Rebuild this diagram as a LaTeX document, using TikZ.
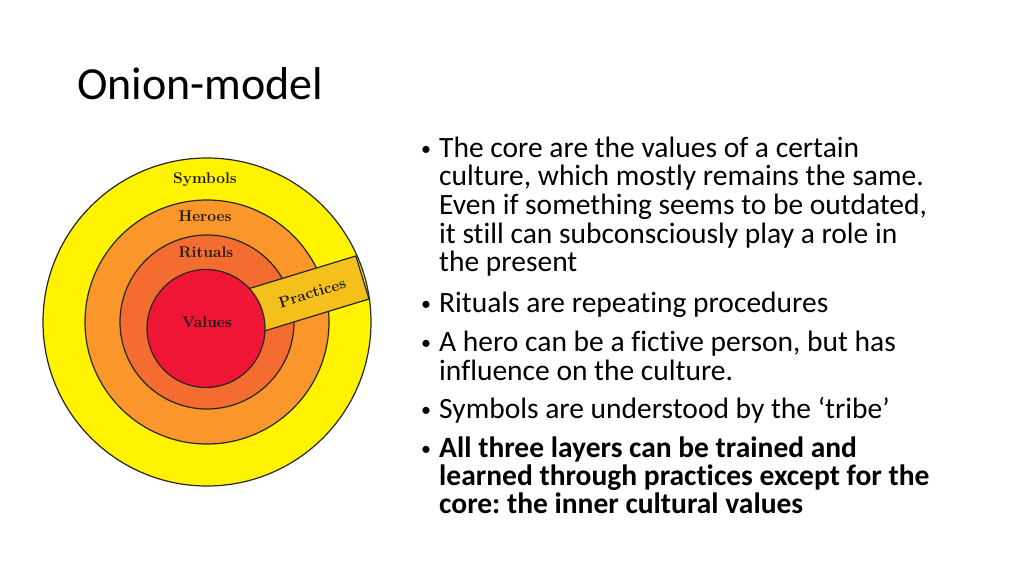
\documentclass[tikz,border=0pt]{standalone}
\usepackage{fontspec}
\newfontfamily\calibri[Ligatures=NoCommon]{Carlito}
\usepackage{tikz}
\frenchspacing

\definecolor{symbolyellow}{RGB}{255,243,0}
\definecolor{heroorange}{RGB}{250,150,42}
\definecolor{ritualorange}{RGB}{244,108,48}
\definecolor{valuered}{RGB}{238,22,52}
\definecolor{practicegold}{RGB}{245,192,28}

\newcommand{\bodyfont}{\calibri\fontsize{29.5}{28.6}\selectfont}
\newcommand{\bulletpar}[1]{\parbox[t]{560pt}{\raggedright #1}}

\tikzset{
  ring/.style={draw=black!85, line width=1.2pt},
  ringlabel/.style={font=\fontsize{15.5}{18}\selectfont\bfseries, text=black!90, inner sep=0pt},
  bulletdot/.style={font=\calibri\fontsize{20}{20}\selectfont, anchor=base, inner sep=0pt, yshift=2pt},
  bullettext/.style={font=\bodyfont, anchor=base west, inner sep=0pt}
}

\begin{document}
\begin{tikzpicture}[x=1pt, y=1pt]
\useasboundingbox[fill=white] (0,0) rectangle (1024,576);

% title
\node[font=\calibri\fontsize{46}{54}\selectfont, anchor=base west, inner sep=0pt] (title) at (77,476) {Onion-model};

% onion
\coordinate (c) at (207,254);
\draw[ring, fill=symbolyellow] (c) circle[radius=164];
\draw[ring, fill=heroorange] (c) circle[radius=122];
\draw[ring, fill=ritualorange] (c) circle[radius=87];
\begin{scope}[shift={(207,251)}, rotate=17]
\draw[ring, fill=practicegold] (0,-22.5) rectangle (162.5,22.5);
\node[ringlabel, rotate=17] (practices) at (110,0) {Practices};
\end{scope}
\draw[ring, fill=valuered] (206,247.5) circle[radius=59];

\node[ringlabel] (symbols) at (205,396) {Symbols};
\node[ringlabel] (heroes) at (205,360) {Heroes};
\node[ringlabel] (rituals) at (206,324) {Rituals};
\node[ringlabel] (values) at (207,254) {Values};

% bullets
\node[bulletdot] (d1) at (426,418.7) {•};
\node[bullettext] (b1) at (439,418.7) {\bulletpar{The core are the values of a certain\\culture, which mostly remains the same.\\Even if something seems to be outdated,\\it still can subconsciously play a role in\\the present}};
\node[bulletdot] (d2) at (426,263.7) {•};
\node[bullettext] (b2) at (439,263.7) {Rituals are repeating procedures};
\node[bulletdot] (d3) at (426,224.5) {•};
\node[bullettext] (b3) at (439,224.5) {\bulletpar{A hero can be a fictive person, but has\\influence on the culture.}};
\node[bulletdot] (d4) at (426,158) {•};
\node[bullettext] (b4) at (439,158) {Symbols are understood by the ‘tribe’};
\node[bulletdot] (d5) at (426,119) {•};
\node[bullettext, font=\calibri\bfseries\fontsize{29.5}{28}\selectfont] (b5) at (439,119) {\bulletpar{All three layers can be trained and\\learned through practices except for the\\core: the inner cultural values}};
\end{tikzpicture}
\end{document}
